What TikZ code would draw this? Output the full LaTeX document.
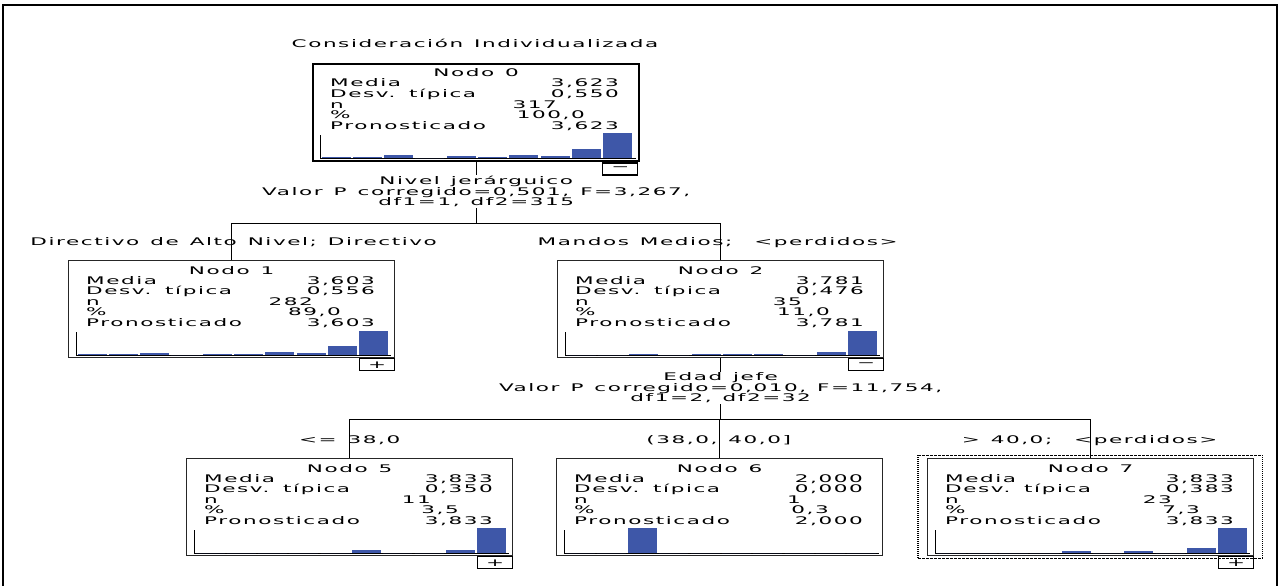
\documentclass[tikz,border=0pt]{standalone}
\usepackage{fontspec}
\setmainfont{DejaVu Sans}[FakeStretch=2.05,LetterSpace=15,WordSpace=1.3]
\usetikzlibrary{positioning,calc}

\definecolor{barblue}{RGB}{62,87,168}

\tikzset{
  lbl/.style={inner sep=0pt, font=\fontsize{10.5}{10.5}\selectfont},
  splitlbl/.style={lbl, align=center, inner sep=1pt, anchor=north},
  treenode/.style={draw=black!85, line width=1.3pt, minimum width=326pt,
    minimum height=97pt, inner sep=0pt, anchor=north west},
  togglebox/.style={draw, line width=1.1pt, minimum width=35pt, minimum height=12pt,
    inner sep=0pt, anchor=north east, font=\fontsize{10.5}{10.5}\selectfont},
  link/.style={line width=1.2pt},
  bar/.style={fill=barblue},
}

% text rows of a tree node
\newcommand{\nodostats}[7]{%
  \node[lbl, anchor=base] at ($(#1.north)+(0,14)$) {Nodo #2};
  \node[lbl, anchor=base west] at ($(#1.north west)+(18,24)$) {Media};
  \node[lbl, anchor=base east] at ($(#1.north west)+(307,24)$) {#3};
  \node[lbl, anchor=base west] at ($(#1.north west)+(18,34.5)$) {Desv. típica};
  \node[lbl, anchor=base east] at ($(#1.north west)+(307,34.5)$) {#4};
  \node[lbl, anchor=base west] at ($(#1.north west)+(18,45)$) {n};
  \node[lbl, anchor=base east] at ($(#1.north west)+(245,45)$) {#5};
  \node[lbl, anchor=base west] at ($(#1.north west)+(18,55.5)$) {\%};
  \node[lbl, anchor=base east] at ($(#1.north west)+(273,55.5)$) {#6};
  \node[lbl, anchor=base west] at ($(#1.north west)+(18,66)$) {Pronosticado};
  \node[lbl, anchor=base east] at ($(#1.north west)+(307,66)$) {#7};
}

% histogram of a tree node
\newcommand{\nodohist}[2]{%
  \draw[line width=1pt] ($(#1.north west)+(8,72)$) -- ($(#1.north west)+(8,95)$)
    -- ($(#1.north east)+(-4,95)$);
  \foreach \h [count=\i from 0] in {#2}
    \fill[bar] ($(#1.north west)+(9.5+31.3*\i,95)$) rectangle ++(29,-\h);
}

\begin{document}
\begin{tikzpicture}[x=1pt,y=-1pt]
\useasboundingbox (0,0) rectangle (1283,586);

% outer frame
\draw[line width=1.6pt] (3,586) -- (3,5) -- (1277,5) -- (1277,586);

\node[lbl, anchor=base] (title) at (475,48) {Consideración Individualizada};

% tree nodes
\node[treenode, line width=2.4pt, draw=black] (n0) at (312,63) {};
\node[treenode] (n1) at (68,260) {};
\node[treenode] (n2) at (557,260) {};
\node[treenode] (n5) at (186,458) {};
\node[treenode] (n6) at (556,458) {};
\node[treenode] (n7) at (927,458) {};

\nodostats{n0}{0}{3,623}{0,550}{317}{100,0}{3,623}
\nodostats{n1}{1}{3,603}{0,556}{282}{89,0}{3,603}
\nodostats{n2}{2}{3,781}{0,476}{35}{11,0}{3,781}
\nodostats{n5}{5}{3,833}{0,350}{11}{3,5}{3,833}
\nodostats{n6}{6}{2,000}{0,000}{1}{0,3}{2,000}
\nodostats{n7}{7}{3,833}{0,383}{23}{7,3}{3,833}

\nodohist{n0}{1,1,2.7,0,1.7,1,3.3,2.3,9,25}
\nodohist{n1}{1,1,2.3,0,1.2,1,3.3,2,9,24.5}
\nodohist{n2}{0,0,1,0,1,1,1,0,3.3,24}
\nodohist{n5}{0,0,0,0,0,3,0,0,3,25}
\nodohist{n6}{0,0,25,0,0,0,0,0,0,0}
\nodohist{n7}{0,0,0,0,2,0,2,0,5.5,25}

% expand / collapse boxes
\node[togglebox] (t0) at ($(n0.south east)+(-2,0)$) {−};
\node[togglebox] (t1) at ($(n1.south east)+(0,0)$) {+};
\node[togglebox] (t2) at ($(n2.south east)+(0,0)$) {−};
\node[togglebox] (t5) at ($(n5.south east)+(0,0)$) {+};
\node[togglebox] (t7) at ($(n7.south east)+(0,0)$) {+};

% selected node frame
\draw[line width=1pt, dash pattern=on 2.5pt off 1.5pt]
  ($(n7.north west)+(-9,-3)$) -- ($(n7.north east)+(8,-3)$)
  ($(n7.south west)+(-9,2)$) -- ($(n7.south east)+(8,2)$);
\draw[line width=1.4pt, dash pattern=on 1pt off 1pt]
  ($(n7.north west)+(-9,-3)$) -- ($(n7.south west)+(-9,2)$)
  ($(n7.north east)+(8,-3)$) -- ($(n7.south east)+(8,2)$);

% first split
\node[splitlbl] (s0) at ($(n0.south)+(0,13)$)
  {Nivel jerárguico\\Valor P corregido=0,501, F=3,267,\\df1=1, df2=315};
\coordinate (h0) at ($(n0.south)+(0,61)$);
\draw[link] (n0.south) -- (s0.north);
\draw[link] (s0.south) -- (h0);
\draw[link] (n1.north) -- (n1.north |- h0) -- (n2.north |- h0) -- (n2.north);
\node[lbl, anchor=base] (b1) at ($(n1.north)+(2,-14.5)$) {Directivo de Alto Nivel; Directivo};
\node[lbl, anchor=base] (b2) at ($(n2.north)+(-3,-14.5)$) {Mandos Medios;\ \ <perdidos>};

% second split
\node[splitlbl] (s2) at ($(n2.south)+(0,13.5)$)
  {Edad jefe\\Valor P corregido=0,010, F=11,754,\\df1=2, df2=32};
\coordinate (h2) at ($(n2.south)+(0,61)$);
\draw[link] (n2.south) -- (s2.north);
\draw[link] (s2.south) -- (h2);
\draw[link] (n5.north) -- (n5.north |- h2) -- (n7.north |- h2) -- (n7.north);
\draw[link] (n6.north |- h2) -- (n6.north);
\node[lbl, anchor=base] (b5) at ($(n5.north)+(0,-15)$) {<= 38,0};
\node[lbl, anchor=base] (b6) at ($(n6.north)+(-1,-15)$) {(38,0, 40,0]};
\node[lbl, anchor=base] (b7) at ($(n7.north)+(-1,-15)$) {> 40,0;\ \ <perdidos>};
\end{tikzpicture}
\end{document}
